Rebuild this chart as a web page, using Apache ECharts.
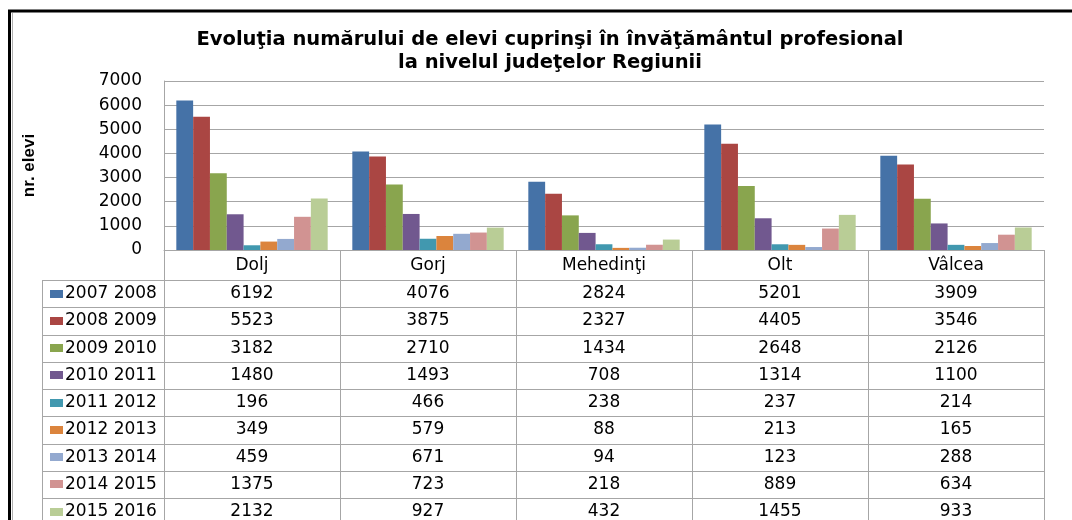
<!DOCTYPE html>
<html>
<head>
<meta charset="utf-8">
<style>
  html, body { margin: 0; padding: 0; background: #fff; }
  #main { width: 1072px; height: 520px; }
</style>
</head>
<body>
<div id="main"></div>
<script src="https://cdn.jsdelivr.net/npm/echarts@6/dist/echarts.min.js"></script>
<script>
// judete
var judete = ['Dolj', 'Gorj', 'Mehedinţi', 'Olt', 'Vâlcea'];
var aniScolari = ['2007 2008', '2008 2009', '2009 2010', '2010 2011', '2011 2012',
                  '2012 2013', '2013 2014', '2014 2015', '2015 2016'];
// nr. elevi pe an scolar
var an2007 = [6192, 4076, 2824, 5201, 3909];
var an2008 = [5523, 3875, 2327, 4405, 3546];
var an2009 = [3182, 2710, 1434, 2648, 2126];
var an2010 = [1480, 1493, 708, 1314, 1100];
var an2011 = [196, 466, 238, 237, 214];
var an2012 = [349, 579, 88, 213, 165];
var an2013 = [459, 671, 94, 123, 288];
var an2014 = [1375, 723, 218, 889, 634];
var an2015 = [2132, 927, 432, 1455, 933];
var yTicks = [0, 1000, 2000, 3000, 4000, 5000, 6000, 7000];

var valori = [an2007, an2008, an2009, an2010, an2011, an2012, an2013, an2014, an2015];
var culori = ['#4572A7', '#AA4643', '#89A54E', '#71588F', '#4198AF',
              '#DB843D', '#93A9CF', '#D19392', '#B9CD96'];

var gri = '#a6a6a6';
var font = '"DejaVu Sans", sans-serif';

// tabel sub grafic
var plotLeft = 164, plotRight = 1044, plotTop = 81, plotBottom = 250;
var tabelTop = 280, randH = 27.25, legLeft = 42;

var myChart = echarts.init(document.getElementById('main'));

var series = valori.map(function (v, i) {
    return {
        name: aniScolari[i],
        type: 'bar',
        data: v,
        barGap: '0%',
        barCategoryGap: '14%',
        itemStyle: { color: culori[i] },
        emphasis: { disabled: true }
    };
});

option = {
    animation: false,
    color: culori,
    title: {
        text: 'Evoluţia numărului de elevi cuprinşi în învăţământul profesional\nla nivelul judeţelor Regiunii',
        left: 550,
        top: 28,
        padding: 0,
        textAlign: 'center',
        textStyle: { fontFamily: font, fontSize: 19.5, fontWeight: 'bold', color: '#000', lineHeight: 23 }
    },
    grid: {
        left: plotLeft,
        right: 1072 - plotRight,
        top: plotTop,
        bottom: 520 - plotBottom,
        containLabel: false
    },
    xAxis: {
        type: 'category',
        data: judete,
        axisLine: { lineStyle: { color: gri, width: 1 } },
        axisTick: { show: true, length: 280, interval: 0, lineStyle: { color: gri } },
        axisLabel: { margin: 7, fontFamily: font, fontSize: 17, color: '#000', interval: 0 }
    },
    yAxis: {
        type: 'value',
        min: yTicks[0],
        max: yTicks[yTicks.length - 1],
        interval: 1000,
        name: 'nr. elevi',
        nameLocation: 'middle',
        nameGap: 126,
        nameTextStyle: { fontFamily: '"Liberation Sans Narrow", Arial, sans-serif', fontSize: 17, fontWeight: 'bold', color: '#000' },
        axisLine: { show: true, lineStyle: { color: gri } },
        axisTick: { show: false },
        axisLabel: { margin: 22, fontFamily: font, fontSize: 17, color: '#000',
                     formatter: function (v) { return String(v); } },
        splitLine: { lineStyle: { color: gri, width: 1 } }
    },
    series: series
};

myChart.setOption(option);

// liniile, legenda si valorile tabelului
var grafic = [];
// rama
grafic.push({ type: 'rect', shape: { x: 9.5, y: 11, width: 1100, height: 600 },
    style: { fill: null, stroke: '#000', lineWidth: 3 }, z: 100 });
grafic.push({ type: 'line', shape: { x1: 12.5, y1: 13, x2: 12.5, y2: 520 },
    style: { stroke: '#b0b0b0', lineWidth: 1 }, z: 100 });
// linii orizontale
for (var r = 0; r <= aniScolari.length; r++) {
    var y = Math.round(tabelTop + r * randH) + 0.5;
    grafic.push({ type: 'line', shape: { x1: legLeft, y1: y, x2: plotRight, y2: y },
        style: { stroke: gri, lineWidth: 1 }, z: 10 });
}
grafic.push({ type: 'line', shape: { x1: legLeft + 0.5, y1: tabelTop, x2: legLeft + 0.5, y2: 520 },
    style: { stroke: gri, lineWidth: 1 }, z: 10 });
// legenda + valori
valori.forEach(function (v, i) {
    var yc = tabelTop + i * randH + randH / 2;
    grafic.push({ type: 'rect', shape: { x: 50, y: Math.round(yc) - 4, width: 13, height: 8 },
        style: { fill: culori[i] }, z: 10 });
    grafic.push({ type: 'text', x: 65, y: yc, z: 10,
        style: { text: aniScolari[i], fontFamily: font, fontSize: 17, fill: '#000',
                 align: 'left', verticalAlign: 'middle' } });
    v.forEach(function (val, j) {
        var xc = myChart.convertToPixel({ xAxisIndex: 0 }, judete[j]);
        grafic.push({ type: 'text', x: xc, y: yc, z: 10,
            style: { text: String(val), fontFamily: font, fontSize: 17, fill: '#000',
                     align: 'center', verticalAlign: 'middle' } });
    });
});

myChart.setOption({ graphic: grafic });
</script>
</body>
</html>
